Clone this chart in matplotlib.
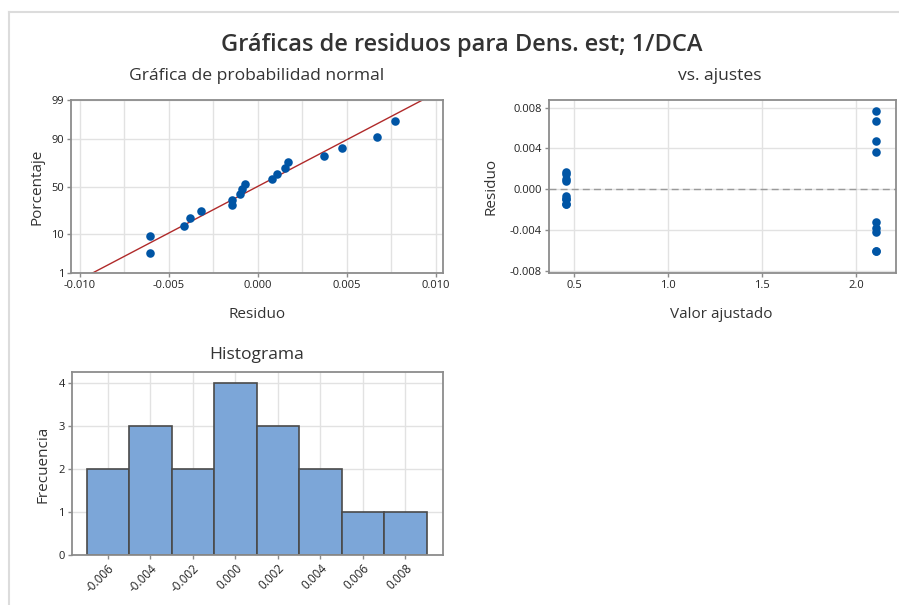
from statistics import NormalDist
import numpy as np
import matplotlib
matplotlib.use("Agg")
import matplotlib.pyplot as plt
from matplotlib.lines import Line2D
from matplotlib.ticker import FixedLocator, MultipleLocator

plt.rcParams['font.family'] = ['Open Sans', 'DejaVu Sans']

# residuos, por valor ajustado
ajuste_1 = 0.457
ajuste_2 = 2.106
residuos_1 = [-0.00143, -0.00143, -0.00098, -0.00092, -0.00070, 0.00081, 0.00105, 0.00152, 0.00169]
residuos_2 = [-0.00605, -0.00605, -0.00415, -0.00380, -0.00320, 0.00370, 0.00470, 0.00670, 0.00770]

# percentiles (rango mediano) del grafico de probabilidad
percentiles = [3.8, 9.2, 14.7, 20.1, 25.5, 31.0, 36.4, 41.8, 47.3, 52.7,
               58.2, 63.6, 69.0, 74.5, 79.9, 85.3, 90.8, 96.2]
pct_ticks = [1, 10, 50, 90, 99]
hist_centros = [-0.006, -0.004, -0.002, 0.000, 0.002, 0.004, 0.006, 0.008]

residuos = np.array(residuos_1 + residuos_2)
nd = NormalDist()

W, H = 899, 605
fig = plt.figure(figsize=(W / 100, H / 100), dpi=100)

TXT = '#333333'
SPINE = '#8c8c8c'
GRID = '#e2e2e2'
AZUL = '#0055a5'


def box(x0, y0, x1, y1):
    # pixel box -> figure axes
    return fig.add_axes([x0 / W, 1 - y1 / H, (x1 - x0) / W, (y1 - y0) / H])


def ftext(x, y, s, size, **kw):
    fig.text(x / W, 1 - y / H, s, fontsize=size, color=TXT, ha='center', va='center', **kw)


def estilo(ax):
    for sp in ax.spines.values():
        sp.set_color(SPINE)
        sp.set_linewidth(1.3)
    ax.tick_params(which='major', length=3, width=1, color=SPINE, labelsize=8, labelcolor='#222222', pad=2)
    ax.tick_params(which='minor', length=0)
    ax.set_axisbelow(True)
    ax.grid(True, which='both', color=GRID, linewidth=1)


# ---- normal probability plot
ax1 = box(71, 100.5, 443, 273)
z_pts = [nd.inv_cdf(p / 100) for p in percentiles]
z_lo, z_hi = nd.inv_cdf(0.01), nd.inv_cdf(0.99)
mu, sd = residuos.mean(), residuos.std(ddof=1)
zz = np.linspace(z_lo - 0.3, z_hi + 0.3, 50)
ax1.plot(mu + sd * zz, zz, color='#b02a2a', lw=1, zorder=2)
ax1.scatter(np.sort(residuos), z_pts, s=38, color=AZUL, zorder=3, linewidths=0)
ax1.set_xlim(-0.0105, 0.0104)
ax1.set_ylim(z_lo, z_hi)
ax1.xaxis.set_major_locator(FixedLocator([-0.010, -0.005, 0.0, 0.005, 0.010]))
ax1.xaxis.set_minor_locator(MultipleLocator(0.0025))
ax1.set_xticklabels(['-0.010', '-0.005', '0.000', '0.005', '0.010'])
ax1.set_yticks([nd.inv_cdf(p / 100) for p in pct_ticks])
ax1.set_yticklabels([str(p) for p in pct_ticks])
estilo(ax1)

# ---- residuals vs fits
ax2 = box(549, 100.5, 896, 273)
ax2.axhline(0, color='#9a9a9a', lw=1, dashes=(5, 3), zorder=2)
ax2.scatter([ajuste_1] * len(residuos_1), residuos_1, s=38, color=AZUL, zorder=3, linewidths=0)
ax2.scatter([ajuste_2] * len(residuos_2), residuos_2, s=38, color=AZUL, zorder=3, linewidths=0)
ax2.set_xlim(0.367, 2.213)
ax2.set_ylim(-0.0082, 0.0087)
ax2.set_xticks([0.5, 1.0, 1.5, 2.0])
ax2.set_xticklabels(['0.5', '1.0', '1.5', '2.0'])
ax2.set_yticks([-0.008, -0.004, 0.0, 0.004, 0.008])
ax2.set_yticklabels(['-0.008', '-0.004', '0.000', '0.004', '0.008'])
estilo(ax2)

# ---- histogram
ax3 = box(71.7, 372.3, 442.7, 555)
bordes = np.array(hist_centros + [hist_centros[-1] + 0.002]) - 0.001
ax3.hist(residuos, bins=bordes, color='#7ca6d8', edgecolor='#4a4a4a', linewidth=1.2, zorder=2)
ax3.set_xlim(-0.0077, 0.00975)
ax3.set_ylim(0, 4.26)
ax3.set_xticks(hist_centros)
ax3.set_xticklabels(['%.3f' % c for c in hist_centros], rotation=45, ha='right', rotation_mode='anchor')
ax3.set_yticks([0, 1, 2, 3, 4])
estilo(ax3)
ax3.tick_params(axis='x', labelsize=8.5)

# ---- texts
ftext(462, 45, 'Gráficas de residuos para Dens. est; 1/DCA', 17, fontweight='semibold')
ftext(257, 76, 'Gráfica de probabilidad normal', 12.6)
ftext(720, 76, 'vs. ajustes', 12.6)
ftext(257, 355, 'Histograma', 12.6)
ftext(257, 315, 'Residuo', 11)
ftext(37, 187, 'Porcentaje', 11, rotation=90)
ftext(721, 315, 'Valor ajustado', 11)
ftext(491, 186, 'Residuo', 11, rotation=90)
ftext(43, 464, 'Frecuencia', 11, rotation=90)

# frame lines
fig.add_artist(Line2D([9 / W, 1], [1 - 12 / H, 1 - 12 / H], transform=fig.transFigure, color='#dcdcdc', lw=1.5))
fig.add_artist(Line2D([9 / W, 9 / W], [0, 1 - 12 / H], transform=fig.transFigure, color='#dcdcdc', lw=1.5))

fig.savefig('out.png', dpi=100)
